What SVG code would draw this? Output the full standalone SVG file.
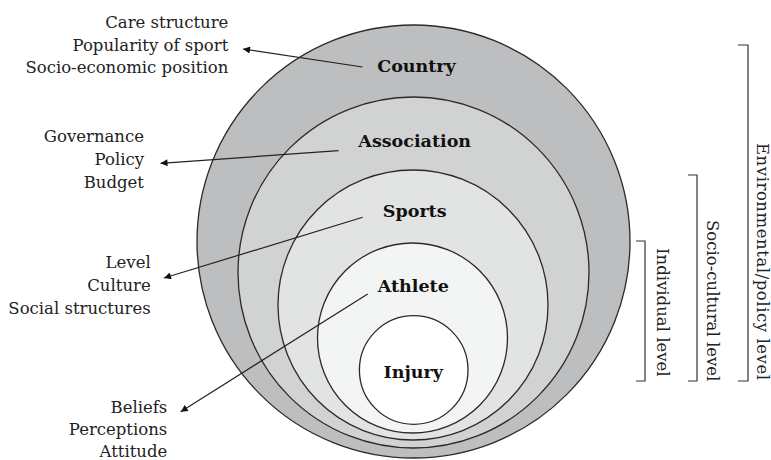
<svg xmlns="http://www.w3.org/2000/svg" width="771" height="460" viewBox="0 0 771 460">
<style>
.ring{stroke:#2a2a2a;stroke-width:1.3}
.lbl{font-family:"DejaVu Serif","Liberation Serif",serif;font-weight:bold;font-size:17.5px;fill:#111;text-anchor:middle}
.note{font-family:"DejaVu Serif","Liberation Serif",serif;font-size:16.5px;fill:#222;text-anchor:end}
.lvl{font-family:"DejaVu Serif","Liberation Serif",serif;font-size:16.5px;fill:#222}
.conn{stroke:#222;stroke-width:1.2;fill:none}
.brk{stroke:#333;stroke-width:1.2;fill:none}
</style>
<defs>
<marker id="ah" viewBox="0 0 10 10" refX="10" refY="5" markerWidth="9" markerHeight="7" markerUnits="userSpaceOnUse" orient="auto">
<path d="M0,0 L10,5 L0,10 z" fill="#111"/>
</marker>
</defs>
<rect width="771" height="460" fill="#ffffff"/>
<g id="country">
<circle class="ring" cx="413.5" cy="241.5" r="216.5" fill="#bdbec0"/>
</g>
<g id="association">
<circle class="ring" cx="413.5" cy="272.5" r="175.5" fill="#d1d2d2"/>
</g>
<g id="sports">
<circle class="ring" cx="413" cy="305" r="135" fill="#e2e3e3"/>
</g>
<g id="athlete">
<circle class="ring" cx="412.5" cy="338" r="95" fill="#f3f4f4"/>
</g>
<g id="injury">
<circle class="ring" cx="413.7" cy="370" r="54.3" fill="#ffffff"/>
</g>
<g id="connectors">
<line class="conn" x1="362.5" y1="67" x2="243" y2="49" marker-end="url(#ah)"/>
<line class="conn" x1="338.5" y1="150.7" x2="160.5" y2="163.3" marker-end="url(#ah)"/>
<line class="conn" x1="362.7" y1="217.3" x2="164" y2="278" marker-end="url(#ah)"/>
<line class="conn" x1="367.7" y1="294" x2="180.7" y2="411.7" marker-end="url(#ah)"/>
</g>
<g id="ring-labels">
<text class="lbl" x="416.5" y="71.7">Country</text>
<text class="lbl" x="414.7" y="146.7">Association</text>
<text class="lbl" x="414.7" y="216.7">Sports</text>
<text class="lbl" x="413.3" y="291.7">Athlete</text>
<text class="lbl" x="413.3" y="378.3">Injury</text>
</g>
<g id="note-country">
<text class="note" x="228.3" y="28.3">Care structure</text>
<text class="note" x="228.3" y="50.5">Popularity of sport</text>
<text class="note" x="228.3" y="72.7">Socio-economic position</text>
</g>
<g id="note-association">
<text class="note" x="144" y="141.7">Governance</text>
<text class="note" x="144" y="164.5">Policy</text>
<text class="note" x="144" y="187.5">Budget</text>
</g>
<g id="note-sports">
<text class="note" x="150.7" y="267.7">Level</text>
<text class="note" x="150.7" y="291">Culture</text>
<text class="note" x="150.7" y="314">Social structures</text>
</g>
<g id="note-athlete">
<text class="note" x="167.3" y="413.3">Beliefs</text>
<text class="note" x="167.3" y="435">Perceptions</text>
<text class="note" x="167.3" y="456.7">Attitude</text>
</g>
<g id="levels">
<path class="brk" d="M738,45 H748 V381 H738"/>
<path class="brk" d="M688,175 H697 V381 H688"/>
<path class="brk" d="M636,241 H645 V381 H636"/>
<text class="lvl" transform="translate(756.5,143) rotate(90)" textLength="237" lengthAdjust="spacing">Environmental/policy level</text>
<text class="lvl" transform="translate(706.5,220) rotate(90)">Socio-cultural level</text>
<text class="lvl" transform="translate(656.5,248) rotate(90)">Individual level</text>
</g>
</svg>
